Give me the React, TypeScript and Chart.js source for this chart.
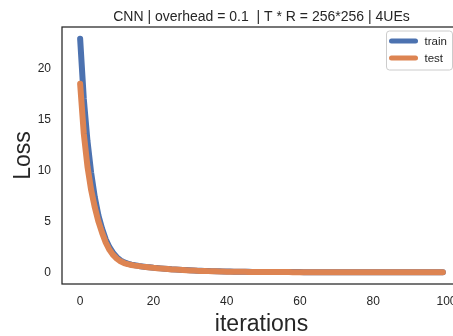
import React, { useEffect, useRef } from "react";
import { Chart, registerables } from "chart.js";

Chart.register(...registerables);

const TITLE = "CNN | overhead = 0.1  | T * R = 256*256 | 4UEs";
const X_LABEL = "iterations";
const Y_LABEL = "Loss";
const SERIES_NAMES = ["train", "test"];

const trainLoss = [
  22.9, 17.0, 12.9, 9.8, 7.4, 5.6, 4.3, 3.25, 2.5, 1.95,
  1.52, 1.22, 1.02, 0.89, 0.8, 0.73, 0.67, 0.62, 0.57, 0.53,
  0.49, 0.46, 0.43, 0.4, 0.37, 0.34, 0.32, 0.3, 0.28, 0.26,
  0.24, 0.22, 0.2, 0.19, 0.18, 0.17, 0.16, 0.15, 0.14, 0.13,
  0.12, 0.112, 0.106, 0.1, 0.095, 0.091, 0.088, 0.085, 0.082, 0.079,
  0.077, 0.075, 0.073, 0.071, 0.069, 0.068, 0.067, 0.066, 0.065, 0.064,
  0.063, 0.062, 0.061, 0.06, 0.059, 0.058, 0.058, 0.057, 0.057, 0.056,
  0.056, 0.055, 0.055, 0.054, 0.054, 0.053, 0.053, 0.052, 0.052, 0.052,
  0.051, 0.051, 0.051, 0.05, 0.05, 0.05, 0.049, 0.049, 0.049, 0.048,
  0.048, 0.048, 0.048, 0.047, 0.047, 0.047, 0.047, 0.046, 0.046, 0.046,
];

const testLoss = [
  18.5, 13.6, 10.4, 8.1, 6.4, 5.0, 3.9, 2.95, 2.25, 1.75,
  1.38, 1.12, 0.95, 0.84, 0.76, 0.7, 0.65, 0.6, 0.56, 0.52,
  0.48, 0.45, 0.42, 0.39, 0.36, 0.33, 0.31, 0.29, 0.27, 0.25,
  0.23, 0.21, 0.19, 0.18, 0.17, 0.16, 0.15, 0.14, 0.13, 0.12,
  0.11, 0.105, 0.1, 0.095, 0.09, 0.087, 0.084, 0.081, 0.078, 0.076,
  0.074, 0.072, 0.07, 0.068, 0.066, 0.065, 0.064, 0.063, 0.062, 0.061,
  0.06, 0.059, 0.058, 0.057, 0.056, 0.056, 0.055, 0.055, 0.054, 0.054,
  0.053, 0.053, 0.052, 0.052, 0.051, 0.051, 0.05, 0.05, 0.05, 0.049,
  0.049, 0.049, 0.048, 0.048, 0.048, 0.047, 0.047, 0.047, 0.046, 0.046,
  0.046, 0.045, 0.045, 0.045, 0.045, 0.044, 0.044, 0.044, 0.044, 0.043,
];

const xTicks = [0, 20, 40, 60, 80, 100];
const yTicks = [0, 5, 10, 15, 20];

const COLORS = ["#4C72B0", "#DD8452"];
const TEXT = "#262626";
const FONT = "'Liberation Sans', Arial, sans-serif";

const CANVAS_W = 480;
const CANVAS_H = 336;

export default function App() {
  const ref = useRef<HTMLCanvasElement | null>(null);

  useEffect(() => {
    const canvas = ref.current;
    if (!canvas) return;

    const decorations = {
      id: "decorations",
      afterDatasetsDraw(chart: any) {
        const { ctx, chartArea } = chart;
        ctx.save();
        ctx.strokeStyle = TEXT;
        ctx.lineWidth = 1.25;
        ctx.strokeRect(
          chartArea.left,
          chartArea.top,
          chartArea.right - chartArea.left,
          chartArea.bottom - chartArea.top
        );
        ctx.restore();
      },
      afterDraw(chart: any) {
        const { ctx, chartArea } = chart;
        ctx.save();
        ctx.fillStyle = TEXT;
        // title
        ctx.font = `14px ${FONT}`;
        ctx.textAlign = "center";
        ctx.textBaseline = "alphabetic";
        ctx.fillText(TITLE, (chartArea.left + chartArea.right) / 2, 21);
        // x label
        ctx.font = `23px ${FONT}`;
        ctx.fillText(X_LABEL, (chartArea.left + chartArea.right) / 2, 331);
        // y label
        ctx.save();
        ctx.translate(29.5, (chartArea.top + chartArea.bottom) / 2);
        ctx.rotate(-Math.PI / 2);
        ctx.fillText(Y_LABEL, 0, 0);
        ctx.restore();

        // legend
        const lx = 386.5, ly = 31, lw = 66, lh = 39, r = 3;
        ctx.beginPath();
        ctx.moveTo(lx + r, ly);
        ctx.lineTo(lx + lw - r, ly);
        ctx.arcTo(lx + lw, ly, lx + lw, ly + r, r);
        ctx.lineTo(lx + lw, ly + lh - r);
        ctx.arcTo(lx + lw, ly + lh, lx + lw - r, ly + lh, r);
        ctx.lineTo(lx + r, ly + lh);
        ctx.arcTo(lx, ly + lh, lx, ly + lh - r, r);
        ctx.lineTo(lx, ly + r);
        ctx.arcTo(lx, ly, lx + r, ly, r);
        ctx.closePath();
        ctx.fillStyle = "rgba(255,255,255,0.8)";
        ctx.fill();
        ctx.strokeStyle = "#cccccc";
        ctx.lineWidth = 1;
        ctx.stroke();

        const rows = [41, 58];
        SERIES_NAMES.forEach((name, i) => {
          ctx.strokeStyle = COLORS[i];
          ctx.lineWidth = 5;
          ctx.lineCap = "round";
          ctx.beginPath();
          ctx.moveTo(391.5, rows[i]);
          ctx.lineTo(415.5, rows[i]);
          ctx.stroke();
          ctx.fillStyle = TEXT;
          ctx.font = `11.5px ${FONT}`;
          ctx.textAlign = "left";
          ctx.textBaseline = "middle";
          ctx.fillText(name, 424.5, rows[i] + 0.5);
        });
        ctx.restore();
      },
    };

    const toPoints = (arr: number[]) => arr.map((y, i) => ({ x: i, y }));

    const chart = new Chart(canvas, {
      type: "line",
      data: {
        datasets: [
          {
            label: SERIES_NAMES[0],
            data: toPoints(trainLoss),
            borderColor: COLORS[0],
            backgroundColor: COLORS[0],
            borderWidth: 6,
            pointRadius: 0,
            borderCapStyle: "round",
            borderJoinStyle: "round",
            tension: 0,
            order: 1,
          },
          {
            label: SERIES_NAMES[1],
            data: toPoints(testLoss),
            borderColor: COLORS[1],
            backgroundColor: COLORS[1],
            borderWidth: 6,
            pointRadius: 0,
            borderCapStyle: "round",
            borderJoinStyle: "round",
            tension: 0,
            order: 0,
          },
        ],
      },
      options: {
        animation: false,
        responsive: false,
        devicePixelRatio: 1,
        layout: { padding: { top: 27, right: 19, left: 0, bottom: 0 } },
        plugins: {
          legend: { display: false },
          title: { display: false },
          tooltip: { enabled: false },
        },
        scales: {
          x: {
            type: "linear",
            min: -4.95,
            max: 103.95,
            afterBuildTicks: (s: any) => {
              s.ticks = xTicks.map((v) => ({ value: v }));
            },
            afterFit: (s: any) => {
              s.height = 52;
            },
            grid: { display: false, drawTicks: false },
            border: { display: false },
            ticks: {
              color: TEXT,
              font: { family: FONT, size: 12 },
              padding: 10,
              maxRotation: 0,
              autoSkip: false,
            },
          },
          y: {
            type: "linear",
            min: -1.1,
            max: 24.05,
            afterBuildTicks: (s: any) => {
              s.ticks = yTicks.map((v) => ({ value: v }));
            },
            afterFit: (s: any) => {
              s.width = 62;
            },
            grid: { display: false, drawTicks: false },
            border: { display: false },
            ticks: {
              color: TEXT,
              font: { family: FONT, size: 12 },
              padding: 11,
              autoSkip: false,
            },
          },
        },
      },
      plugins: [decorations],
    } as any);

    return () => chart.destroy();
  }, []);

  return (
    <div
      style={{
        position: "fixed",
        left: 0,
        top: 0,
        width: 453,
        height: 336,
        overflow: "hidden",
        background: "#ffffff",
      }}
    >
      <canvas
        ref={ref}
        width={CANVAS_W}
        height={CANVAS_H}
        style={{ display: "block", width: CANVAS_W, height: CANVAS_H }}
      />
    </div>
  );
}
